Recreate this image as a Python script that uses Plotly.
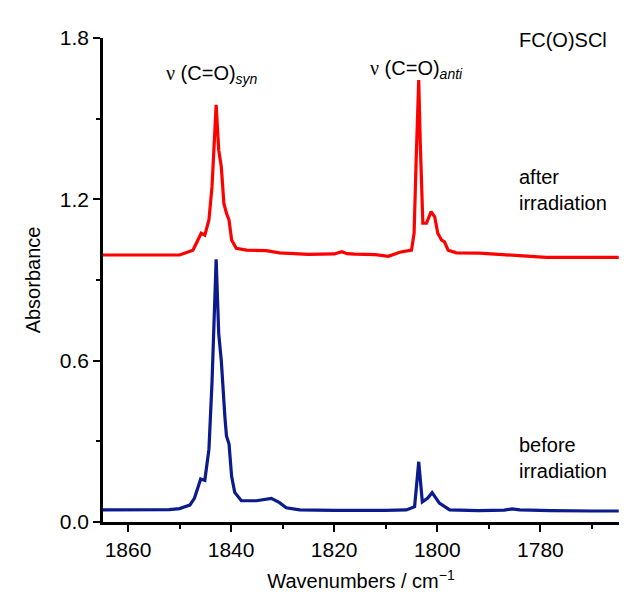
import plotly.graph_objects as go

# Wavenumbers (cm-1) and absorbance
wn_before = [1864.9, 1857.0, 1852.0, 1850.0, 1848.0, 1847.1, 1845.9, 1845.1, 1844.3, 1843.7,
             1843.2, 1842.9, 1842.4, 1841.9, 1841.2, 1840.9, 1840.4, 1839.9, 1839.3, 1838.0,
             1835.1, 1833.5, 1832.2, 1830.6, 1829.3, 1826.7, 1820.0, 1810.0, 1806.0, 1804.4,
             1803.6, 1802.9, 1801.9, 1801.0, 1799.6, 1797.6, 1792.0, 1787.0, 1785.5, 1784.0,
             1778.0, 1770.0, 1764.8]
abs_before = [0.045, 0.045, 0.046, 0.050, 0.063, 0.089, 0.160, 0.155, 0.270, 0.520,
              0.830, 0.977, 0.700, 0.600, 0.390, 0.320, 0.290, 0.170, 0.110, 0.079,
              0.079, 0.085, 0.088, 0.072, 0.053, 0.045, 0.043, 0.043, 0.045, 0.057,
              0.224, 0.075, 0.088, 0.109, 0.070, 0.045, 0.042, 0.044, 0.049, 0.045,
              0.042, 0.041, 0.041]

wn_after = [1864.9, 1855.0, 1850.0, 1847.4, 1846.4, 1845.8, 1845.1, 1844.3, 1843.7, 1843.3,
            1842.9, 1842.4, 1841.9, 1841.4, 1840.9, 1840.4, 1839.9, 1839.0, 1837.0, 1833.2,
            1830.6, 1825.0, 1820.0, 1818.5, 1817.5, 1816.0, 1812.0, 1809.5, 1807.3, 1805.0,
            1804.5, 1804.1, 1803.6, 1803.3, 1802.8, 1802.1, 1801.2, 1800.5, 1799.9, 1799.2,
            1798.6, 1797.9, 1796.3, 1791.8, 1785.3, 1778.9, 1764.8]
abs_after = [0.993, 0.995, 0.993, 1.011, 1.049, 1.074, 1.067, 1.123, 1.247, 1.408,
             1.551, 1.383, 1.321, 1.185, 1.148, 1.123, 1.049, 1.018, 1.011, 1.009,
             1.001, 0.995, 0.997, 1.005, 0.998, 0.996, 0.994, 0.988, 1.003, 1.011,
             1.074, 1.346, 1.644, 1.408, 1.111, 1.111, 1.154, 1.135, 1.074, 1.049,
             1.042, 1.011, 1.001, 1.000, 0.993, 0.984, 0.984]

x_ticks = [1860, 1840, 1820, 1800, 1780]
y_ticks = [0.0, 0.6, 1.2, 1.8]
y_tick_text = ["0.0", "0.6", "1.2", "1.8"]

FONT = "Liberation Sans, Arial, sans-serif"
NU = "<span style='font-family:Liberation Serif, serif'>ν</span>"

fig = go.Figure()
fig.add_trace(go.Scatter(x=wn_before, y=abs_before, mode="lines",
                         line=dict(color="#0b1a8c", width=3.2), name="before irradiation"))
fig.add_trace(go.Scatter(x=wn_after, y=abs_after, mode="lines",
                         line=dict(color="#ff0000", width=3.2), name="after irradiation"))

fig.update_layout(
    width=630, height=602,
    margin=dict(l=95, r=19, t=30, b=88),
    paper_bgcolor="white", plot_bgcolor="white",
    showlegend=False,
    font=dict(family=FONT, size=20, color="black"),
    xaxis=dict(range=[1864.85, 1764.75], tickvals=x_ticks, tickfont=dict(size=21),
               ticks="outside", ticklen=7, tickwidth=2, tickcolor="black",
               showline=True, linecolor="black", linewidth=2.5, showgrid=False, zeroline=False,
               minor=dict(dtick=10, tick0=1860, ticks="outside", ticklen=4, tickwidth=2,
                          tickcolor="black", showgrid=False),
               title=dict(text="Wavenumbers / cm<sup>−1</sup>", standoff=15,
                          font=dict(size=20))),
    yaxis=dict(range=[0, 1.8], tickvals=y_ticks, ticktext=y_tick_text, tickfont=dict(size=21),
               ticks="outside", ticklen=7, tickwidth=2, tickcolor="black",
               showline=True, linecolor="black", linewidth=2.5, showgrid=False, zeroline=False,
               minor=dict(dtick=0.3, tick0=0, ticks="outside", ticklen=4, tickwidth=2,
                          tickcolor="black", showgrid=False),
               title=dict(text="Absorbance", standoff=14, font=dict(size=20))),
)

annos = [
    dict(x=0.802, y=0.996, text="FC(O)SCl"),
    dict(x=0.802, y=0.685, text="after<br>irradiation"),
    dict(x=0.802, y=0.133, text="before<br>irradiation"),
    dict(x=0.118, y=0.924, text=NU + " (C=O)<sub><i>syn</i></sub>"),
    dict(x=0.514, y=0.934, text=NU + " (C=O)<sub><i>anti</i></sub>"),
]
for a in annos:
    fig.add_annotation(xref="paper", yref="paper", xanchor="left", yanchor="middle",
                       showarrow=False, align="left", font=dict(size=20, family=FONT), **a)

fig.write_html("out.html")
